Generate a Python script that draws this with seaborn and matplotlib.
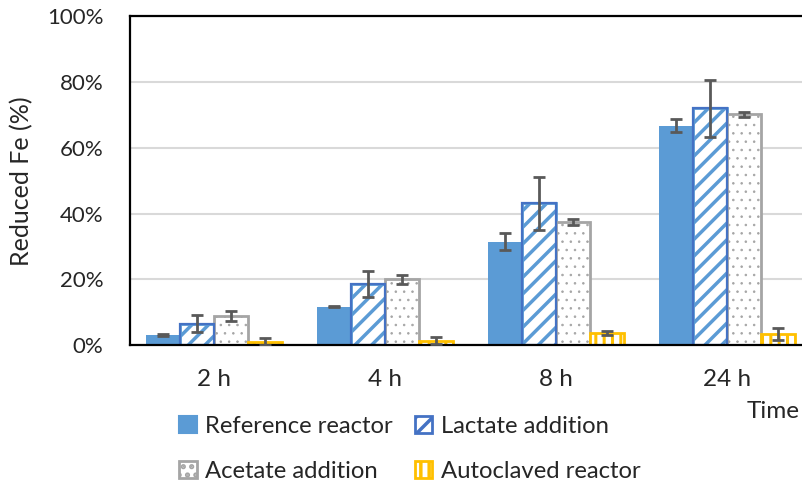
import pandas as pd
import matplotlib
matplotlib.use('Agg')
import matplotlib.pyplot as plt
from matplotlib.patches import Patch
from matplotlib.ticker import PercentFormatter
import seaborn as sns

# Data (percent reduced Fe, mean and error)
times = ["2 h", "4 h", "8 h", "24 h"]
series = ["Reference reactor", "Lactate addition", "Acetate addition", "Autoclaved reactor"]
ref_mean = [3.0, 11.7, 31.4, 66.8]
ref_err = [0.3, 0.2, 2.6, 2.0]
lac_mean = [6.5, 18.6, 43.1, 72.0]
lac_err = [2.6, 4.0, 8.1, 8.6]
ace_mean = [8.8, 20.0, 37.4, 70.2]
ace_err = [1.5, 1.4, 1.0, 0.8]
auto_mean = [1.0, 1.3, 3.6, 3.3]
auto_err = [1.1, 1.1, 0.7, 1.9]

means = [ref_mean, lac_mean, ace_mean, auto_mean]
errs = [ref_err, lac_err, ace_err, auto_err]

# bar styles per series: face, edge (also hatch colour), hatch, edge width
styles = [
    dict(facecolor='#5B9BD5', edgecolor='#5B9BD5', hatch=None, lw=0, hlw=1),
    dict(facecolor='white', edgecolor='#5B9BD5', hatch='//', lw=2, hlw=2.5, border='#4472C4'),
    dict(facecolor='white', edgecolor='#A5A5A5', hatch='..', lw=2, hlw=0.6),
    dict(facecolor='white', edgecolor='#FFC000', hatch='||', lw=2, hlw=2.2),
]


def make_chart():
    rows = []
    for s, m in zip(series, means):
        for t, v in zip(times, m):
            rows.append({'Time': t, 'Reduced': v, 'Series': s})
    df = pd.DataFrame(rows)

    sns.set_style('white')
    plt.rcParams['font.family'] = ['Lato', 'DejaVu Sans']
    plt.rcParams['hatch.linewidth'] = 2.5

    fig = plt.figure(figsize=(8.02, 4.86), dpi=100)
    ax = fig.add_axes([130 / 802, 1 - 345 / 486, 0.85, (345 - 16.5) / 486])

    sns.barplot(data=df, x='Time', y='Reduced', hue='Series', order=times,
                hue_order=series, errorbar=None, width=0.8, ax=ax,
                palette=['#5B9BD5', 'white', 'white', 'white'], saturation=1,
                legend=False)

    for cont, st, err in zip(ax.containers, styles, errs):
        xs, ys = [], []
        for p in cont.patches:
            p.set_facecolor(st['facecolor'])
            p.set_edgecolor(st['edgecolor'])
            p.set_linewidth(st['lw'])
            if st['hatch']:
                p.set_hatch(st['hatch'])
                if hasattr(p, 'set_hatch_linewidth'):
                    p.set_hatch_linewidth(st['hlw'])
            if 'border' in st:
                # separate outline in a darker blue
                ax.add_patch(plt.Rectangle((p.get_x(), 0), p.get_width(), p.get_height(),
                                           facecolor='none', edgecolor=st['border'],
                                           linewidth=1.6, zorder=p.get_zorder() + 0.1))
            xs.append(p.get_x() + p.get_width() / 2)
            ys.append(p.get_height())
        ax.errorbar(xs, ys, yerr=err, fmt='none', ecolor='#595959', elinewidth=2,
                    capsize=4, capthick=2, zorder=5)

    ax.set_ylim(0, 100)
    ax.set_xlim(-0.491, 3.496)
    ax.set_yticks([0, 20, 40, 60, 80, 100])
    ax.yaxis.set_major_formatter(PercentFormatter(100, decimals=0))
    ax.grid(axis='y', color='#D9D9D9', linewidth=1.5)
    ax.set_axisbelow(True)
    ax.tick_params(axis='y', length=0, pad=19, labelsize=16, labelcolor='#262626')
    ax.tick_params(axis='x', length=0, pad=17, labelsize=17.5, labelcolor='#262626')
    ax.set_xlabel('')
    ax.set_ylabel('Reduced Fe (%)', fontsize=18, color='#262626')
    ax.yaxis.set_label_coords(-0.142, 0.5)

    for side in ['top', 'left', 'bottom']:
        ax.spines[side].set_color('black')
        ax.spines[side].set_linewidth(1.6)
    ax.spines['right'].set_visible(False)

    fig.text(0.997, 1 - 411 / 486, 'Time', ha='right', va='center',
             fontsize=17.5, color='#262626')

    handles = []
    for st in styles:
        h = Patch(facecolor=st['facecolor'], edgecolor=st.get('border', st['edgecolor']),
                  hatch=st['hatch'], linewidth=max(st['lw'], 1.5))
        if st['hatch'] and hasattr(h, 'set_hatch_linewidth'):
            h.set_hatch_linewidth(st['hlw'])
        handles.append(h)
    # legend fills column by column, so reorder to get rows of two
    order = [0, 2, 1, 3]
    fig.legend([handles[i] for i in order], [series[i] for i in order],
               loc='center', bbox_to_anchor=(0.511, 1 - 449 / 486),
               ncol=2, frameon=False, fontsize=17.2, handlelength=0.75, handleheight=0.7,
               handletextpad=0.35, columnspacing=0.9, labelspacing=1.0,
               labelcolor='#262626')

    fig.savefig('out.png', dpi=100)


if __name__ == "__main__":
    make_chart()
